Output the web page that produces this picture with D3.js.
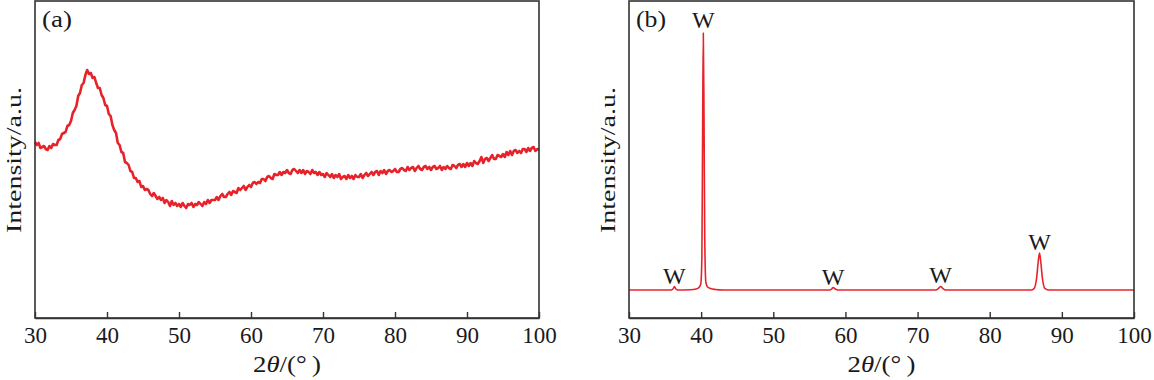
<!DOCTYPE html>
<html>
<head>
<meta charset="utf-8">
<script src="https://cdn.jsdelivr.net/npm/d3@7"></script>
<style>
  html, body { margin: 0; padding: 0; background: #fff; }
  svg { display: block; }
  text { font-family: "Liberation Serif", "DejaVu Serif", serif; fill: #1a1a1a; }
</style>
</head>
<body>
<svg id="chart" width="1154" height="380"></svg>
<script>
// ---------- DATA ----------
const xTicks = [30, 40, 50, 60, 70, 80, 90, 100];

// Panel (a): amorphous pattern, measured from 30° in steps of 0.25° (2θ)
const aStart = 30, aStep = 0.25;
const aIntensity = [
  176,173,175,170,171,172,169,168,172,170,174,173,173,178,179,184,185,186,192,193,
  197,205,208,212,222,225,233,235,243,248,244,245,240,241,235,230,230,223,220,213,
  212,204,202,193,188,185,175,173,166,165,156,155,153,147,146,140,140,136,137,131,
  132,128,129,128,124,122,125,122,119,121,118,120,115,118,116,112,117,113,115,112,
  114,111,115,112,110,114,113,115,111,114,113,116,114,112,116,114,118,115,118,118,
  118,121,118,122,124,121,121,124,126,123,127,126,125,130,128,130,132,128,131,133,
  131,135,136,134,136,135,139,139,137,141,142,140,139,144,143,143,146,143,146,145,
  148,145,144,148,149,147,145,148,145,148,144,147,146,144,148,145,146,143,146,143,
  144,141,145,143,141,144,140,143,141,144,139,141,142,139,143,140,142,139,143,141,
  141,144,140,143,145,142,144,146,143,146,147,143,147,145,148,144,147,148,146,147,
  149,146,146,149,150,148,147,151,148,150,151,147,150,152,149,148,151,152,149,151,
  148,151,152,149,150,152,148,151,149,152,150,149,153,152,150,153,154,151,154,151,
  155,152,155,152,157,155,154,157,161,155,159,160,157,160,163,159,159,163,162,161,
  164,161,166,163,167,163,167,168,165,167,165,169,169,166,170,167,170,171,167,169,168];
const aAngle = aIntensity.map((_, i) => aStart + i * aStep);

// Panel (b): crystalline W pattern
const bAngle = [30,35.8,36.1,36.3,36.5,36.8,38.5,39.3,39.7,39.95,40.1,40.2,40.3,40.4,40.5,40.65,40.9,41.3,42,43,
  57.8,58.1,58.3,58.6,58.9,72.5,72.9,73.2,73.5,73.9,85.8,86.2,86.5,86.75,86.9,87.05,87.3,87.6,88,88.5,100];
const bIntensity = [28,28,29,31.5,29,28,28.3,29,30.5,34,60,180,285,200,80,36,31,29.5,28.5,28,
  28,29,30.5,29,28,28,29.5,31.5,29.5,28,28,30,40,58,65,58,40,30,28.3,28,28];

// Peak labels (b)
const peakAngle = [36.3, 40.3, 58.3, 73.2, 86.9];
const peakHeight = [31.5, 287, 30.5, 32.5, 65];
const peakLabel = ["W", "W", "W", "W", "W"];

// ---------- DRAW ----------
const svg = d3.select("#chart");
const plotTop = 1, plotBottom = 318;

function panel(x0, x1, angle, intensity, tag, curve, lineWidth, labels) {
  const g = svg.append("g");
  const x = d3.scaleLinear().domain([30, 100]).range([x0, x1]);
  const y = d3.scaleLinear().domain([0, 317]).range([plotBottom, plotTop]);

  const data = angle.map((a, i) => [a, intensity[i]]);
  const line = d3.line().x(d => x(d[0])).y(d => y(d[1])).curve(curve);
  g.append("path").datum(data)
    .attr("d", line)
    .attr("fill", "none")
    .attr("stroke", "#e6232a")
    .attr("stroke-width", lineWidth)
    .attr("stroke-linejoin", "round");

  // frame
  g.append("rect")
    .attr("x", x0).attr("y", plotTop)
    .attr("width", x1 - x0).attr("height", plotBottom - plotTop)
    .attr("fill", "none").attr("stroke", "#333").attr("stroke-width", 1.6);

  const ax = g.append("g")
    .attr("transform", `translate(0,${plotBottom})`)
    .call(d3.axisBottom(x).tickValues(xTicks).tickSizeInner(-6).tickSizeOuter(0).tickPadding(9));
  ax.select(".domain").attr("stroke", "#333").attr("stroke-width", 1.6);
  ax.selectAll(".tick line").attr("stroke", "#333").attr("stroke-width", 1.4);
  ax.selectAll(".tick text")
    .style("font-family", '"Liberation Serif", serif')
    .style("font-size", "23px").attr("fill", "#1a1a1a");

  // axis titles
  const xt = g.append("text")
    .attr("x", (x0 + x1) / 2).attr("y", 372)
    .attr("text-anchor", "middle").style("font-size", "23px")
    .attr("textLength", 68).attr("lengthAdjust", "spacingAndGlyphs");
  xt.append("tspan").text("2");
  xt.append("tspan").style("font-style", "italic").text("θ");
  xt.append("tspan").text("/(°\u2009)");

  g.append("text")
    .attr("transform", `translate(${x0 - 14},${160}) rotate(-90)`)
    .attr("text-anchor", "middle")
    .style("font-size", "22px")
    .attr("textLength", 146).attr("lengthAdjust", "spacingAndGlyphs")
    .text("Intensity/a.u.");

  g.append("text")
    .attr("x", x0 + 7).attr("y", 27)
    .style("font-size", "24px")
    .attr("textLength", 30).attr("lengthAdjust", "spacingAndGlyphs")
    .text(tag);

  if (labels) {
    g.selectAll(".plabel").data(labels.angle).enter().append("text")
      .attr("x", d => x(d))
      .attr("y", (d, i) => y(labels.height[i]) - 3)
      .attr("text-anchor", "middle")
      .style("font-size", "24px")
      .text((d, i) => labels.text[i]);
  }
}

panel(35, 539, aAngle, aIntensity, "(a)", d3.curveLinear, 2.6, null);
panel(629, 1134, bAngle, bIntensity, "(b)", d3.curveMonotoneX, 1.6,
  { angle: peakAngle, height: peakHeight, text: peakLabel });
</script>
</body>
</html>
